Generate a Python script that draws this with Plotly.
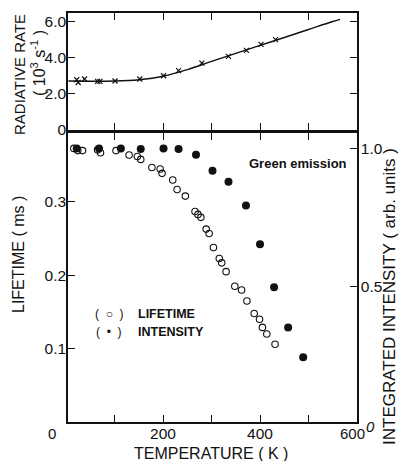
import plotly.graph_objects as go

# ---------------- data ----------------
# Radiative rate (10^3 s^-1), crosses
rate_T = [22, 25, 38, 65, 70, 101, 152, 201, 232, 280, 335, 372, 402, 432]
rate_v = [2.77, 2.62, 2.81, 2.68, 2.68, 2.70, 2.81, 2.99, 3.27, 3.69, 4.06, 4.39, 4.72, 4.98]
# smooth fitted curve through the radiative rate
curve_T = [5, 50, 100, 150, 200, 250, 300, 350, 400, 450, 500, 550, 565]
curve_v = [2.70, 2.69, 2.70, 2.77, 2.96, 3.33, 3.78, 4.22, 4.66, 5.10, 5.54, 5.98, 6.10]

# Lifetime (ms), open circles
life_T = [16, 24, 34, 65, 71, 103, 130, 147, 154, 177, 194, 198, 220, 229, 246,
          266, 272, 278, 289, 295, 304, 316, 321, 330, 348, 362, 373, 388, 399,
          405, 414, 431]
life_v = [0.373, 0.370, 0.370, 0.371, 0.367, 0.370, 0.364, 0.362, 0.358, 0.347,
          0.345, 0.339, 0.330, 0.317, 0.308, 0.287, 0.283, 0.279, 0.263, 0.257,
          0.238, 0.223, 0.217, 0.205, 0.185, 0.180, 0.165, 0.148, 0.140, 0.129,
          0.120, 0.106]

# Integrated intensity (arb. units), filled circles
int_T = [22, 68, 113, 154, 201, 232, 268, 302, 335, 371, 400, 429, 458, 489]
int_v = [1.00, 1.00, 1.00, 0.998, 1.00, 0.998, 0.977, 0.920, 0.880, 0.794,
         0.654, 0.499, 0.353, 0.246]

x_tickvals = [100, 200, 300, 400, 500]
x_ticktext = ["", "200", "", "400", ""]
rate_tickvals = [0, 2, 4, 6]
rate_ticktext = ["0", "2.0", "4.0", "6.0"]
life_tickvals = [0.1, 0.2, 0.3]
life_ticktext = ["0.1", "0.2", "0.3"]
int_tickvals = [0.5, 1.0]
int_ticktext = ["0.5", "1.0"]

FONT = "Liberation Sans, Arial, Helvetica, sans-serif"
INK = "#111111"

fig = go.Figure()

fig.add_trace(go.Scatter(x=curve_T, y=curve_v, mode="lines", line=dict(color=INK, width=1.4, shape="spline"),
                         xaxis="x2", yaxis="y2", showlegend=False, hoverinfo="skip"))
fig.add_trace(go.Scatter(x=rate_T, y=rate_v, mode="markers",
                         marker=dict(symbol="x-thin", size=5, line=dict(color=INK, width=1.2)),
                         xaxis="x2", yaxis="y2", showlegend=False))
fig.add_trace(go.Scatter(x=life_T, y=life_v, mode="markers",
                         marker=dict(symbol="circle-open", size=6.5, color=INK, line=dict(width=1.1)),
                         xaxis="x", yaxis="y", showlegend=False))
fig.add_trace(go.Scatter(x=int_T, y=int_v, mode="markers",
                         marker=dict(symbol="circle", size=8, color=INK),
                         xaxis="x", yaxis="y3", showlegend=False))

axis_common = dict(showline=True, linecolor=INK, linewidth=1.5, ticks="inside", ticklen=7,
                   tickcolor=INK, tickwidth=1.3, showgrid=False, zeroline=False, automargin=False,
                   tickfont=dict(family=FONT, size=15.5, color=INK))

fig.update_layout(
    width=401, height=461,
    margin=dict(l=68, r=44, t=13, b=39, autoexpand=False),
    paper_bgcolor="white", plot_bgcolor="white",
    xaxis=dict(axis_common, domain=[0, 1], anchor="y", range=[4, 600], mirror="ticks",
               tickvals=x_tickvals, ticktext=x_ticktext, ticklabelstandoff=-3),
    xaxis2=dict(axis_common, domain=[0, 1], anchor="y2", range=[4, 600], mirror="ticks",
                tickvals=x_tickvals, showticklabels=False),
    yaxis=dict(axis_common, domain=[0, 0.7066], anchor="x", range=[0, 0.394], mirror=True,
               tickvals=life_tickvals, ticktext=life_ticktext, ticklabelstandoff=-3),
    yaxis3=dict(axis_common, overlaying="y", side="right", anchor="x", range=[0.012, 1.056],
                tickvals=int_tickvals, ticktext=int_ticktext, ticklabelstandoff=-1),
    yaxis2=dict(axis_common, domain=[0.714, 1], anchor="x2", range=[0, 6.45], mirror="ticks",
                tickvals=rate_tickvals, ticktext=rate_ticktext, ticklabelstandoff=-3),
)

def px_x(p):
    return (p - 68) / (357 - 68)

def px_y(p):
    return (422 - p) / (422 - 13)

ann = [
    dict(text="0", x=px_x(52), y=px_y(434)),
    dict(text="600", x=px_x(352), y=px_y(434)),
    dict(text="<i>0</i>", x=px_x(370), y=px_y(426)),
    dict(text="TEMPERATURE ( K )", x=px_x(211), y=px_y(453), size=16),
    dict(text="RADIATIVE RATE", x=px_x(19), y=px_y(75), size=15, angle=-90),
    dict(text="( 10<sup>3</sup> s<sup>-1</sup> )", x=px_x(38), y=px_y(63), size=16, angle=-90),
    dict(text="LIFETIME ( ms )", x=px_x(19), y=px_y(255), size=16, angle=-90),
    dict(text="INTEGRATED INTENSITY ( arb. units )", x=px_x(389), y=px_y(297), size=17, angle=-90),
    dict(text="<b>Green emission</b>", x=px_x(298), y=px_y(163), size=13),
    dict(text="(  ○  )", x=px_x(109), y=px_y(314), size=12),
    dict(text="<b>LIFETIME</b>", x=px_x(136), y=px_y(314), size=12.5, xanchor="left"),
    dict(text="(  •  )", x=px_x(109), y=px_y(332), size=12),
    dict(text="<b>INTENSITY</b>", x=px_x(136), y=px_y(332), size=12.5, xanchor="left"),
]
for a in ann:
    fig.add_annotation(text=a["text"], x=a["x"], y=a["y"], xref="paper", yref="paper",
                       showarrow=False, textangle=a.get("angle", 0),
                       xanchor=a.get("xanchor", "center"), yanchor="middle",
                       font=dict(family=FONT, size=a.get("size", 15), color=INK))

fig.write_html("out.html", config={"displayModeBar": False},
               post_script="document.body.style.margin='0';")
